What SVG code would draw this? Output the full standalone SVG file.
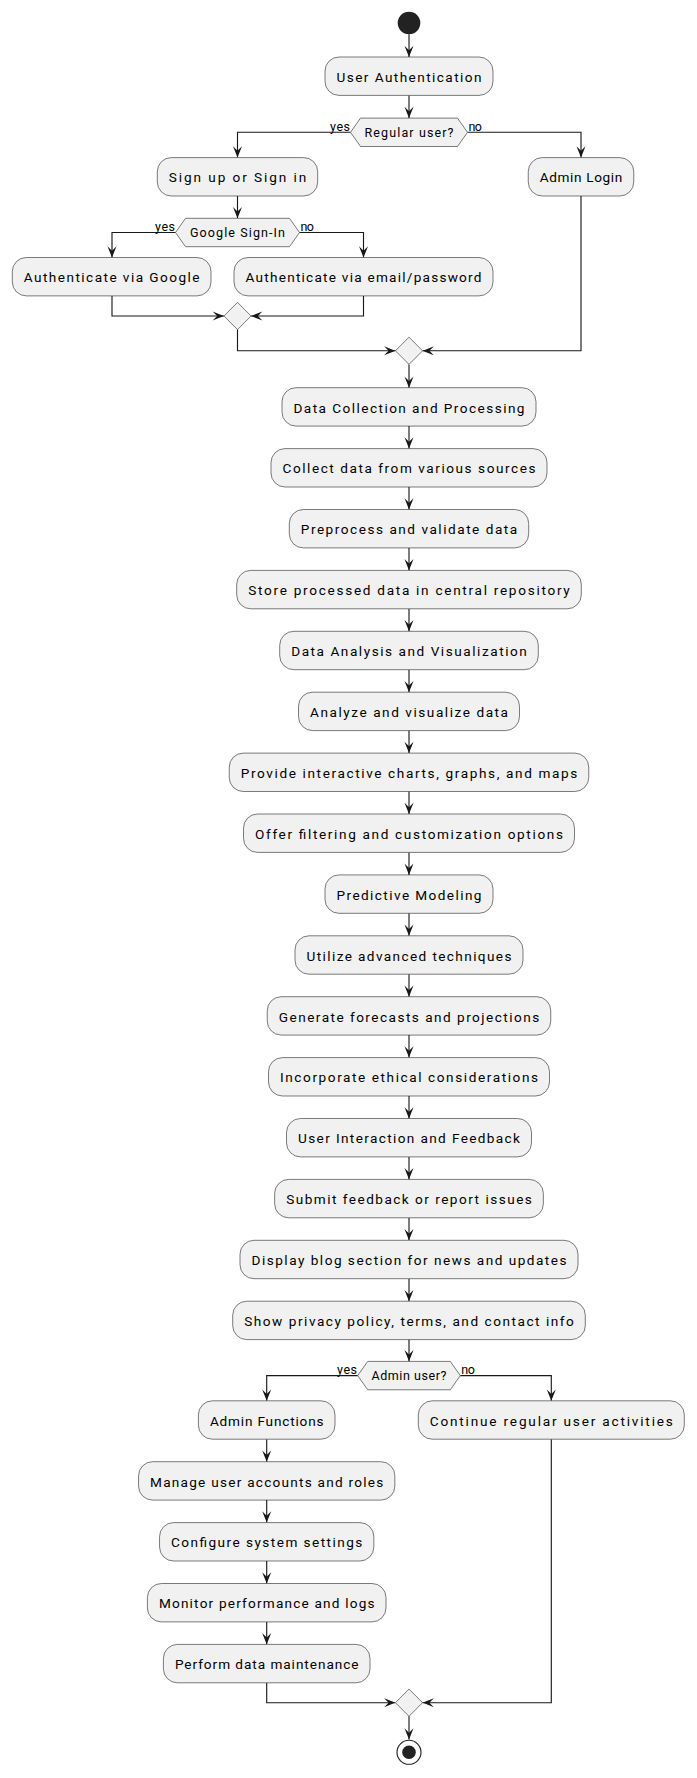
<svg xmlns="http://www.w3.org/2000/svg" width="697" height="1778" viewBox="0 0 697 1778">
<defs>
<marker id="ah" viewBox="-12 -5 12 10" markerWidth="12" markerHeight="10" refX="0" refY="0" orient="auto" markerUnits="userSpaceOnUse">
<path d="M0,0 L-11.3,-4.5 L-6.8,0 L-11.3,4.5 Z" fill="#181818"/>
</marker>
<style>
.box{fill:#F1F1F1;stroke:#181818;stroke-width:0.57}
.dia{fill:#F1F1F1;stroke:#181818;stroke-width:0.57}
.t{font-family:Roboto,"Liberation Sans",sans-serif;font-size:13.6px;fill:#000;text-anchor:middle}
.ht{font-family:Roboto,"Liberation Sans",sans-serif;font-size:12.5px;fill:#000;text-anchor:middle}
.lb{font-family:Roboto,"Liberation Sans",sans-serif;font-size:12.5px;fill:#000}
.c{fill:none;stroke:#181818;stroke-width:1.13;marker-end:url(#ah)}
</style>
</defs>
<rect width="697" height="1778" fill="#FFFFFF"/>
<g id="connectors">
<path class="c" d="M409,34.3 V57"/>
<path class="c" d="M409,95.4 V118.1"/>
<path class="c" d="M350.5,132.3 H237.5 V157.6"/>
<path class="c" d="M467.5,132.3 H581 V157.6"/>
<path class="c" d="M237.5,196 V218.3"/>
<path class="c" d="M175.5,232.5 H112 V257.5"/>
<path class="c" d="M299.5,232.5 H363.5 V257.5"/>
<path class="c" d="M112,295.9 V316 H223.9"/>
<path class="c" d="M363.5,295.9 V316 H251.1"/>
<path class="c" d="M237.5,329.6 V350.8 H395.4"/>
<path class="c" d="M581,196 V350.8 H422.6"/>
<path class="c" d="M409,364.4 V387.7"/>
<path class="c" d="M409,426.1 V448.6"/>
<path class="c" d="M409,487 V509.5"/>
<path class="c" d="M409,547.9 V570.4"/>
<path class="c" d="M409,608.8 V631.3"/>
<path class="c" d="M409,669.7 V692.2"/>
<path class="c" d="M409,730.6 V753.1"/>
<path class="c" d="M409,791.5 V814"/>
<path class="c" d="M409,852.4 V874.9"/>
<path class="c" d="M409,913.3 V935.8"/>
<path class="c" d="M409,974.2 V996.7"/>
<path class="c" d="M409,1035.1 V1057.6"/>
<path class="c" d="M409,1096 V1118.5"/>
<path class="c" d="M409,1156.9 V1179.4"/>
<path class="c" d="M409,1217.8 V1240.3"/>
<path class="c" d="M409,1278.7 V1301.2"/>
<path class="c" d="M409,1339.6 V1361.4"/>
<path class="c" d="M357.7,1375.6 H266.7 V1400.8"/>
<path class="c" d="M460.3,1375.6 H551.3 V1400.8"/>
<path class="c" d="M266.7,1439.2 V1461.7"/>
<path class="c" d="M266.7,1500.1 V1522.6"/>
<path class="c" d="M266.7,1561 V1583.5"/>
<path class="c" d="M266.7,1621.9 V1644.4"/>
<path class="c" d="M266.7,1682.8 V1702.7 H395.4"/>
<path class="c" d="M551.3,1439.2 V1702.7 H422.6"/>
<path class="c" d="M409,1716.3 V1739.6"/>
</g>
<g id="start"><circle cx="409" cy="23" r="11.3" fill="#222222"/></g>
<g id="n_userauth"><rect class="box" x="325" y="57" width="168" height="38.4" rx="14"/><text class="t" x="409" y="81.8" textLength="145" lengthAdjust="spacing">User Authentication</text></g>
<g id="d_regular"><polygon class="dia" points="350.5,132.3 360.5,118.1 457.5,118.1 467.5,132.3 457.5,146.5 360.5,146.5"/><text class="ht" x="409" y="136.7" textLength="89" lengthAdjust="spacing">Regular user?</text><text class="lb" x="330" y="131" textLength="20" lengthAdjust="spacing">yes</text><text class="lb" x="468.5" y="131" textLength="13.5" lengthAdjust="spacing">no</text></g>
<g id="n_signup"><rect class="box" x="157.3" y="157.6" width="160.4" height="38.4" rx="14"/><text class="t" x="237.5" y="182.4" textLength="137.4" lengthAdjust="spacing">Sign up or Sign in</text></g>
<g id="n_adminlogin"><rect class="box" x="528.25" y="157.6" width="105.5" height="38.4" rx="14"/><text class="t" x="581" y="182.4" textLength="82.5" lengthAdjust="spacing">Admin Login</text></g>
<g id="d_google"><polygon class="dia" points="175.5,232.5 185.5,218.3 289.5,218.3 299.5,232.5 289.5,246.7 185.5,246.7"/><text class="ht" x="237.5" y="236.9" textLength="95" lengthAdjust="spacing">Google Sign-In</text><text class="lb" x="155" y="231.2" textLength="20" lengthAdjust="spacing">yes</text><text class="lb" x="300.5" y="231.2" textLength="13.5" lengthAdjust="spacing">no</text></g>
<g id="n_authgoogle"><rect class="box" x="12.3" y="257.5" width="198.7" height="38.4" rx="14"/><text class="t" x="111.65" y="282.3" textLength="175.7" lengthAdjust="spacing">Authenticate via Google</text></g>
<g id="n_authemail"><rect class="box" x="234" y="257.5" width="259" height="38.4" rx="14"/><text class="t" x="363.5" y="282.3" textLength="236" lengthAdjust="spacing">Authenticate via email/password</text></g>
<g id="m_inner"><polygon class="dia" points="237.5,302.4 251.1,316 237.5,329.6 223.9,316"/></g>
<g id="m_outer"><polygon class="dia" points="409,337.2 422.6,350.8 409,364.4 395.4,350.8"/></g>
<g id="n_datacollection"><rect class="box" x="282" y="387.7" width="254" height="38.4" rx="14"/><text class="t" x="409" y="412.5" textLength="231" lengthAdjust="spacing">Data Collection and Processing</text></g>
<g id="n_collect"><rect class="box" x="271" y="448.6" width="276" height="38.4" rx="14"/><text class="t" x="409" y="473.4" textLength="253" lengthAdjust="spacing">Collect data from various sources</text></g>
<g id="n_preprocess"><rect class="box" x="289.3" y="509.5" width="239.4" height="38.4" rx="14"/><text class="t" x="409" y="534.3" textLength="216.4" lengthAdjust="spacing">Preprocess and validate data</text></g>
<g id="n_store"><rect class="box" x="236.7" y="570.4" width="344.6" height="38.4" rx="14"/><text class="t" x="409" y="595.2" textLength="321.6" lengthAdjust="spacing">Store processed data in central repository</text></g>
<g id="n_analysisviz"><rect class="box" x="279.7" y="631.3" width="258.6" height="38.4" rx="14"/><text class="t" x="409" y="656.1" textLength="235.6" lengthAdjust="spacing">Data Analysis and Visualization</text></g>
<g id="n_analyze"><rect class="box" x="298.5" y="692.2" width="221" height="38.4" rx="14"/><text class="t" x="409" y="717" textLength="198" lengthAdjust="spacing">Analyze and visualize data</text></g>
<g id="n_charts"><rect class="box" x="229.25" y="753.1" width="359.5" height="38.4" rx="14"/><text class="t" x="409" y="777.9" textLength="336.5" lengthAdjust="spacing">Provide interactive charts, graphs, and maps</text></g>
<g id="n_filter"><rect class="box" x="243.5" y="814" width="331" height="38.4" rx="14"/><text class="t" x="409" y="838.8" textLength="308" lengthAdjust="spacing">Offer filtering and customization options</text></g>
<g id="n_predictive"><rect class="box" x="325" y="874.9" width="168" height="38.4" rx="14"/><text class="t" x="409" y="899.7" textLength="145" lengthAdjust="spacing">Predictive Modeling</text></g>
<g id="n_utilize"><rect class="box" x="295" y="935.8" width="228" height="38.4" rx="14"/><text class="t" x="409" y="960.6" textLength="205" lengthAdjust="spacing">Utilize advanced techniques</text></g>
<g id="n_forecasts"><rect class="box" x="267.25" y="996.7" width="283.5" height="38.4" rx="14"/><text class="t" x="409" y="1021.5" textLength="260.5" lengthAdjust="spacing">Generate forecasts and projections</text></g>
<g id="n_ethical"><rect class="box" x="268.5" y="1057.6" width="281" height="38.4" rx="14"/><text class="t" x="409" y="1082.4" textLength="258" lengthAdjust="spacing">Incorporate ethical considerations</text></g>
<g id="n_interaction"><rect class="box" x="286.5" y="1118.5" width="245" height="38.4" rx="14"/><text class="t" x="409" y="1143.3" textLength="222" lengthAdjust="spacing">User Interaction and Feedback</text></g>
<g id="n_feedback"><rect class="box" x="274.65" y="1179.4" width="268.7" height="38.4" rx="14"/><text class="t" x="409" y="1204.2" textLength="245.7" lengthAdjust="spacing">Submit feedback or report issues</text></g>
<g id="n_blog"><rect class="box" x="240" y="1240.3" width="338" height="38.4" rx="14"/><text class="t" x="409" y="1265.1" textLength="315" lengthAdjust="spacing">Display blog section for news and updates</text></g>
<g id="n_privacy"><rect class="box" x="232.7" y="1301.2" width="352.6" height="38.4" rx="14"/><text class="t" x="409" y="1326" textLength="329.6" lengthAdjust="spacing">Show privacy policy, terms, and contact info</text></g>
<g id="d_admin"><polygon class="dia" points="357.7,1375.6 367.7,1361.4 450.3,1361.4 460.3,1375.6 450.3,1389.8 367.7,1389.8"/><text class="ht" x="409" y="1380" textLength="75" lengthAdjust="spacing">Admin user?</text><text class="lb" x="337" y="1374.3" textLength="20" lengthAdjust="spacing">yes</text><text class="lb" x="461.3" y="1374.3" textLength="13.5" lengthAdjust="spacing">no</text></g>
<g id="n_adminfunctions"><rect class="box" x="198.4" y="1400.8" width="136.6" height="38.4" rx="14"/><text class="t" x="266.7" y="1425.6" textLength="113.6" lengthAdjust="spacing">Admin Functions</text></g>
<g id="n_continue"><rect class="box" x="418.3" y="1400.8" width="266" height="38.4" rx="14"/><text class="t" x="551.3" y="1425.6" textLength="243" lengthAdjust="spacing">Continue regular user activities</text></g>
<g id="n_manage"><rect class="box" x="138.55" y="1461.7" width="256.3" height="38.4" rx="14"/><text class="t" x="266.7" y="1486.5" textLength="233.3" lengthAdjust="spacing">Manage user accounts and roles</text></g>
<g id="n_configure"><rect class="box" x="159.55" y="1522.6" width="214.3" height="38.4" rx="14"/><text class="t" x="266.7" y="1547.4" textLength="191.3" lengthAdjust="spacing">Configure system settings</text></g>
<g id="n_monitor"><rect class="box" x="147.4" y="1583.5" width="238.6" height="38.4" rx="14"/><text class="t" x="266.7" y="1608.3" textLength="215.6" lengthAdjust="spacing">Monitor performance and logs</text></g>
<g id="n_maintenance"><rect class="box" x="163.4" y="1644.4" width="206.6" height="38.4" rx="14"/><text class="t" x="266.7" y="1669.2" textLength="183.6" lengthAdjust="spacing">Perform data maintenance</text></g>
<g id="m_final"><polygon class="dia" points="409,1689.1 422.6,1702.7 409,1716.3 395.4,1702.7"/></g>
<g id="end"><circle cx="409" cy="1752.3" r="12" fill="none" stroke="#222222" stroke-width="1.13"/><circle cx="409" cy="1752.3" r="6.8" fill="#222222"/></g>
</svg>
